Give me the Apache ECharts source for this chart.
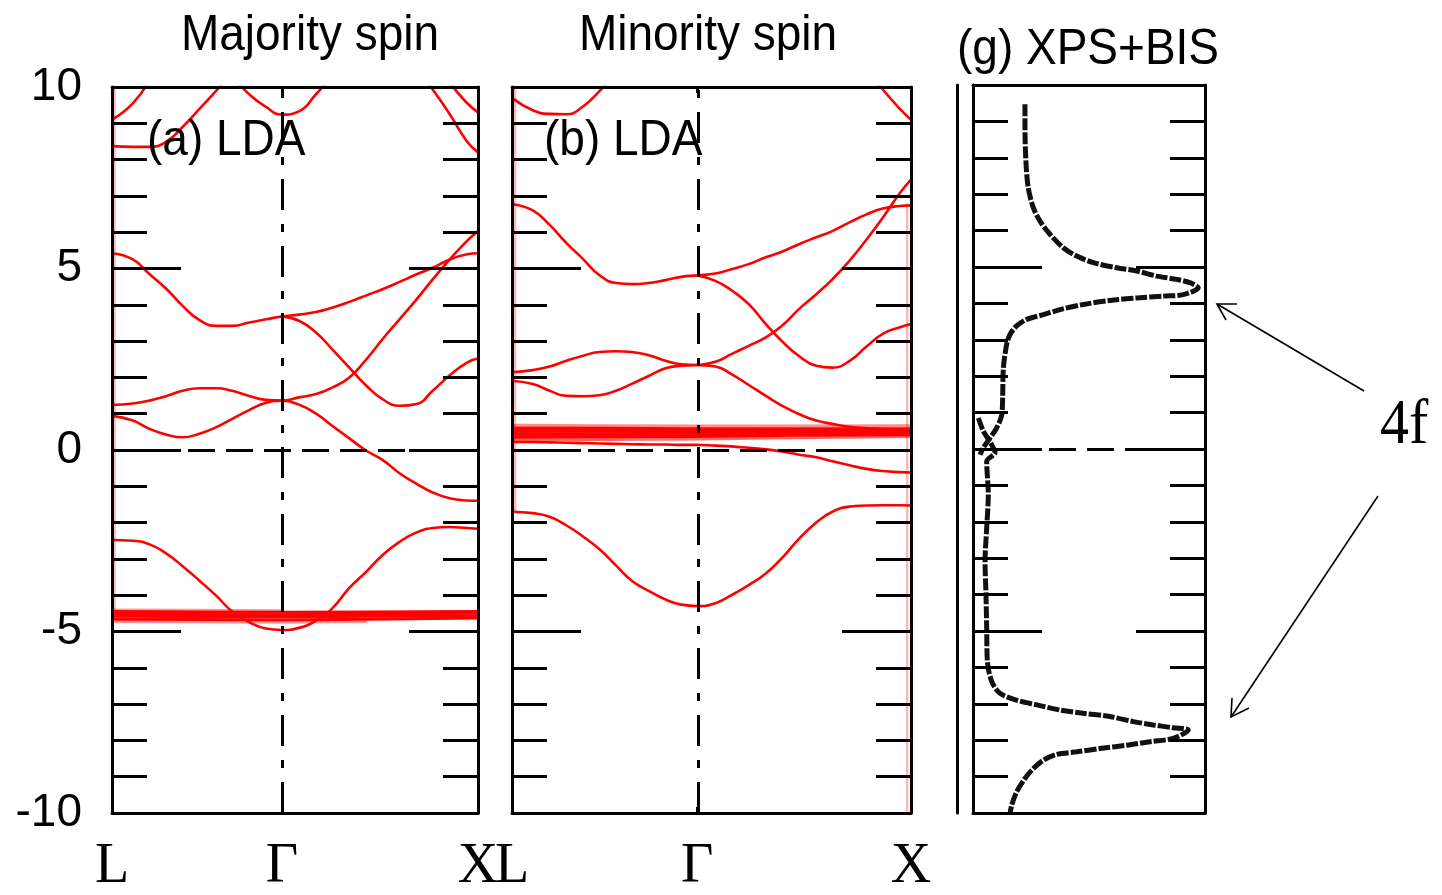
<!DOCTYPE html>
<html>
<head>
<meta charset="utf-8">
<script src="https://cdn.jsdelivr.net/npm/echarts@6/dist/echarts.min.js"></script>
<style>
  html, body { margin: 0; padding: 0; background: #fff; }
  #chart { width: 1442px; height: 895px; }
</style>
</head>
<body>
<div id="chart"></div>
<script>
// ---- Majority spin band structure, path L - Γ - X (k in units of 2π/a) ----
const kMaj = [0, 0.106, 0.192, 0.279, 0.36, 0.446, 0.532, 0.613, 0.699, 0.785, 0.866,
              0.953, 1.04, 1.122, 1.21, 1.297, 1.379, 1.466, 1.553, 1.635, 1.722, 1.81, 1.866];
const majBand1 = [-2.48, -2.5, -2.6, -2.86, -3.2, -3.6, -4.02, -4.45, -4.74, -4.92, -4.96,
                  -4.9, -4.7, -4.37, -3.8, -3.35, -2.9, -2.53, -2.27, -2.15, -2.12, -2.15, -2.17];
const majBand2 = [0.94, 0.81, 0.58, 0.42, 0.35, 0.45, 0.63, 0.86, 1.1, 1.3, 1.36,
                  1.25, 1.0, 0.67, 0.32, -0.02, -0.27, -0.64, -0.93, -1.17, -1.33, -1.39, -1.4];
const majBand3 = [1.24, 1.28, 1.36, 1.49, 1.63, 1.7, 1.7, 1.63, 1.49, 1.38, 1.36,
                  1.45, 1.54, 1.72, 2.0, 2.5, 3.05, 3.6, 4.15, 4.7, 5.25, 5.76, 6.03];
const majBand4 = [5.42, 5.25, 4.84, 4.43, 3.97, 3.58, 3.42, 3.42, 3.51, 3.6, 3.68,
                  3.73, 3.8, 3.92, 4.08, 4.26, 4.43, 4.63, 4.84, 5.02, 5.25, 5.39, 5.42];
const majBand5 = [null, null, null, null, null, null, null, null, null, null, 3.68,
                  3.56, 3.24, 2.78, 2.27, 1.77, 1.4, 1.22, 1.27, 1.63, 2.06, 2.41, 2.52];
const majBand6 = [9.1, 9.55, 10.2, null, null, null, null, null, null, null, null,
                  null, null, null, null, null, null, null, null, null, null, null, null];
const majBand7 = [8.37, 8.35, 8.35, 8.5, 8.9, 9.4, 9.9, 10.4, null, null, null,
                  null, null, null, null, null, null, null, null, null, null, null, null];
const majBand8 = [null, null, null, null, null, null, null, 10.3, 9.8, 9.45, 9.24,
                  9.33, 9.8, 10.3, null, null, null, null, null, null, null, null, null];
const majBand9 = [null, null, null, null, null, null, null, null, null, null, null,
                  null, null, null, null, null, null, null, 10.5, 9.93, 9.25, 8.5, 8.2];
const majBand10 = [null, null, null, null, null, null, null, null, null, null, null,
                   null, null, null, null, null, null, null, null, 10.6, 10.1, 9.56, 9.3];

// Flat 4f bands (sampled at L, halfway, Γ, halfway, X)
const kFlat = [0, 0.433, 0.866, 1.3, 1.866];
const majF1 = [-4.45, -4.46, -4.47, -4.46, -4.45];
const majF2 = [-4.52, -4.53, -4.54, -4.52, -4.5];
const majF3 = [-4.58, -4.59, -4.6, -4.58, -4.57];
const majF4 = [-4.66, -4.67, -4.68, -4.66, -4.63];
const majF5 = [-4.4, -4.41, -4.42, null, null];
const majF6 = [-4.73, -4.74, -4.75, -4.73, null];

// ---- Minority spin band structure ----
const kMin = [0, 0.097, 0.176, 0.255, 0.329, 0.408, 0.486, 0.56, 0.639, 0.718, 0.792, 0.866,
              0.951, 1.026, 1.107, 1.187, 1.262, 1.342, 1.423, 1.498, 1.578, 1.658, 1.734, 1.814, 1.866];
const minBand1 = [-1.7, -1.74, -1.84, -2.08, -2.37, -2.73, -3.18, -3.6, -3.88, -4.12, -4.26, -4.3,
                  -4.22, -4.0, -3.72, -3.4, -2.98, -2.45, -2.0, -1.7, -1.56, -1.53, -1.52, -1.52, -1.53];
const minBand2 = [0.22, 0.22, 0.21, 0.2, 0.19, 0.18, 0.17, 0.16, 0.15, 0.15, 0.14, 0.14,
                  0.12, 0.1, 0.06, 0.02, -0.04, -0.13, -0.2, -0.31, -0.42, -0.52, -0.58, -0.61, -0.62];
const minBand3 = [2.14, 2.2, 2.3, 2.46, 2.59, 2.7, 2.72, 2.7, 2.61, 2.46, 2.36, 2.34,
                  2.3, 2.09, 1.79, 1.49, 1.22, 0.99, 0.81, 0.72, 0.64, 0.6, 0.58, 0.57, 0.57];
const minBand4 = [1.9, 1.82, 1.63, 1.49, 1.48, 1.51, 1.63, 1.82, 2.04, 2.25, 2.32, 2.34,
                  2.43, 2.64, 2.87, 3.1, 3.42, 3.88, 4.29, 4.7, 5.21, 5.8, 6.4, 7.08, 7.45];
const minBand5 = [6.77, 6.6, 6.2, 5.7, 5.28, 4.82, 4.6, 4.57, 4.6, 4.68, 4.77, 4.81,
                  4.86, 4.98, 5.12, 5.31, 5.46, 5.67, 5.86, 6.03, 6.27, 6.49, 6.65, 6.72, 6.74];
const minBand6 = [null, null, null, null, null, null, null, null, null, null, null, 4.81,
                  4.66, 4.4, 4.02, 3.47, 3.0, 2.59, 2.32, 2.27, 2.45, 2.85, 3.2, 3.38, 3.47];
const minBand7 = [9.7, 9.36, 9.26, 9.25, 9.45, 9.88, 10.4, null, null, null, null, null,
                  null, null, null, null, null, null, null, null, null, null, null, null, null];
const minBand8 = [null, null, null, null, null, null, null, null, null, null, null, null,
                  null, null, null, null, null, null, null, null, null, 10.5, 9.93, 9.4, 9.1];
const minF1 = [0.68, 0.67, 0.66, 0.66, 0.67];
const minF2 = [0.6, 0.59, 0.58, 0.58, 0.58];
const minF3 = [0.52, 0.52, 0.5, 0.51, 0.52];
const minF4 = [0.44, 0.44, 0.44, 0.45, 0.47];
const minF5 = [0.36, 0.37, 0.38, 0.41, 0.43];
const minF6 = [0.28, 0.29, 0.3, 0.34, 0.37];

// Segments along the zone-boundary edges: [k, E from, E to]
const majEdges = [[0.013, 10, -4.6], [1.886, 5.45, -10]];
const minEdges = [[0.014, 10, -1.7], [1.848, 6.8, -10]];

// ---- XPS + BIS spectrum (intensity, arb. units 0-100) ----
const bisE = [9.47, 8.83, 7.91, 7.18, 6.63, 6.26, 5.9, 5.53, 5.3, 5.12, 4.98, 4.89, 4.75, 4.66, 4.57, 4.43,
              4.24, 4.2, 4.15, 4.08, 3.97, 3.83, 3.69, 3.56, 3.38, 3.14, 2.87, 2.23, 1.49, 0.94, 0.58, 0.3, 0.03, -0.16];
const bisI = [22.4, 22.4, 22.8, 23.8, 26, 28.9, 33.2, 38.9, 44.7, 51.9, 61.9, 70.6, 79.2, 87.8, 93.5, 97.1,
              90.6, 82, 70.6, 59, 47.5, 37.5, 30.3, 23.1, 18.8, 15.9, 14.5, 13.1, 12.8, 12.4, 10.2, 7.3, 4.4, 3];
const xpsE = [0.85, 0.5, 0.2, -0.1, -0.34, -1.26, -2.17, -3.09, -4.01, -4.92, -5.84, -6.39, -6.71, -6.9, -7.03,
              -7.17, -7.26, -7.35, -7.49, -7.58, -7.66, -7.72, -7.95, -8.04, -8.14, -8.23, -8.32, -8.39, -8.55,
              -8.78, -9.05, -9.42, -9.78, -10.05];
const xpsI = [2.3, 4.4, 7.3, 9.5, 5.9, 6.6, 5.9, 5.2, 5.6, 5.9, 6.2, 8.1, 11.6, 18.8, 27.5,
              37.5, 47.5, 59, 69.1, 77.7, 86.3, 92.8, 86.3, 76.3, 66.2, 54.7, 44.7, 36.1, 30.3,
              26, 22.4, 18.8, 16.7, 15.9];

// Axis settings
const energyTicks = { min: -10, max: 10, interval: 5 };
const kGamma = 0.866, kEnd = 1.866;
const kPointNames = { 0: 'L', 0.866: 'Γ', 1.866: 'X' };

const RED = '#ff0000';
const sans = '"Liberation Sans", Arial, sans-serif';
const serif = '"Liberation Serif", "Times New Roman", serif';

function band(k, e, xi, yi, opts) {
  opts = opts || {};
  return {
    type: 'line', xAxisIndex: xi, yAxisIndex: yi, silent: true,
    data: k.map((kv, i) => [kv, e[i]]),
    showSymbol: false, symbol: 'none', smooth: opts.smooth === undefined ? 0.5 : opts.smooth,
    connectNulls: false,
    lineStyle: { color: opts.color || RED, width: opts.width || 2.6, opacity: opts.opacity || 1 },
    z: 2
  };
}
function edge(list, xi, yi) {
  return list.map(s => ({
    type: 'line', xAxisIndex: xi, yAxisIndex: yi, silent: true, clip: false,
    data: [[s[0], s[1]], [s[0], s[2]]], showSymbol: false, symbol: 'none',
    lineStyle: { color: '#ffb6b6', width: 2.5 }, z: 1
  }));
}
function guides(xi, yi, withGamma) {
  const d = [];
  if (withGamma) d.push({ xAxis: kGamma, lineStyle: { type: [31, 14, 8, 14], width: 3, color: '#000' } });
  d.push({ yAxis: 0, lineStyle: { type: [27, 11], width: 3, color: '#000' } });
  return {
    type: 'line', xAxisIndex: xi, yAxisIndex: yi, data: [], silent: true, z: 3,
    markLine: { silent: true, symbol: ['none', 'none'], label: { show: false }, animation: false, data: d }
  };
}

function kAxis(gi, pos, labels) {
  return {
    type: 'value', gridIndex: gi, position: pos, min: 0, max: kEnd, z: 6,
    axisLine: { show: true, onZero: false, lineStyle: { color: '#000', width: 3 } },
    axisTick: { show: true, inside: true, length: 6, customValues: [kGamma], lineStyle: { color: '#000', width: 3 } },
    axisLabel: labels ? {
      show: true, customValues: [0, kGamma, kEnd], margin: 26, color: '#000',
      fontFamily: serif, fontSize: 56, showMinLabel: true, showMaxLabel: true,
      formatter: v => kPointNames[Math.round(v * 1000) / 1000] || ''
    } : { show: false },
    splitLine: { show: false }
  };
}
function eAxis(gi, pos, labels) {
  return {
    type: 'value', gridIndex: gi, position: pos, z: 6,
    min: energyTicks.min, max: energyTicks.max, interval: energyTicks.interval,
    axisLine: { show: true, onZero: false, lineStyle: { color: '#000', width: 3 } },
    axisTick: { show: true, inside: true, length: 69, lineStyle: { color: '#000', width: 3 } },
    minorTick: { show: true, splitNumber: 5, length: 35, lineStyle: { color: '#000', width: 3 } },
    axisLabel: labels ? { show: true, margin: 30, color: '#000', fontFamily: sans, fontSize: 46 } : { show: false },
    splitLine: { show: false }, minorSplitLine: { show: false }
  };
}
function plainAxis(gi, pos) {
  return {
    type: 'value', gridIndex: gi, position: pos, min: 0, max: 100, z: 6,
    axisLine: { show: true, onZero: false, lineStyle: { color: '#000', width: 3 } },
    axisTick: { show: false }, axisLabel: { show: false }, splitLine: { show: false }
  };
}

const series = [
  guides(0, 0, true),
  ...edge(majEdges, 0, 0),
  band(kFlat, majF5, 0, 0, { opacity: 0.4, smooth: false }),
  band(kFlat, majF6, 0, 0, { opacity: 0.4, smooth: false }),
  band(kFlat, majF1, 0, 0, { smooth: false, width: 3 }),
  band(kFlat, majF2, 0, 0, { smooth: false, width: 3 }),
  band(kFlat, majF3, 0, 0, { smooth: false, width: 3 }),
  band(kFlat, majF4, 0, 0, { smooth: false, width: 3 }),
  ...[majBand1, majBand2, majBand3, majBand4, majBand5, majBand6, majBand7, majBand8, majBand9, majBand10]
    .map(b => band(kMaj, b, 0, 0)),

  guides(2, 2, true),
  ...edge(minEdges, 2, 2),
  band(kFlat, minF1, 2, 2, { opacity: 0.45, smooth: false, width: 3 }),
  band(kFlat, minF6, 2, 2, { opacity: 0.6, smooth: false, width: 3 }),
  band(kFlat, minF2, 2, 2, { smooth: false, width: 3.5 }),
  band(kFlat, minF3, 2, 2, { smooth: false, width: 3.5 }),
  band(kFlat, minF4, 2, 2, { smooth: false, width: 3.5 }),
  band(kFlat, minF5, 2, 2, { smooth: false, width: 3.5 }),
  ...[minBand1, minBand2, minBand3, minBand4, minBand5, minBand6, minBand7, minBand8]
    .map(b => band(kMin, b, 2, 2)),

  guides(4, 4, false),
  {
    type: 'line', xAxisIndex: 4, yAxisIndex: 4, silent: true, z: 4,
    data: bisI.map((v, i) => [v, bisE[i]]), showSymbol: false, symbol: 'none', smooth: 0.3,
    lineStyle: { color: '#111', width: 5, type: [12, 2] }
  },
  {
    type: 'line', xAxisIndex: 4, yAxisIndex: 4, silent: true, z: 4,
    data: xpsI.map((v, i) => [v, xpsE[i]]), showSymbol: false, symbol: 'none', smooth: 0.3,
    lineStyle: { color: '#111', width: 5, type: [12, 2] }
  }
];

function label(text, x, y, font, align) {
  return {
    type: 'text', x: x, y: y, scaleY: 1.1, silent: true, z: 10,
    style: {
      x: 0, y: 0, text: text, font: font, fill: '#000',
      textAlign: align || 'center', align: align || 'center',
      textVerticalAlign: 'middle', verticalAlign: 'middle'
    }
  };
}

const option = {
  animation: false,
  backgroundColor: '#fff',
  grid: [
    { left: 112, top: 87, width: 366, height: 727 },
    { left: 512, top: 87, width: 399, height: 727 },
    { left: 973, top: 85, width: 232, height: 728 }
  ],
  xAxis: [
    kAxis(0, 'bottom', true), kAxis(0, 'top', false),
    kAxis(1, 'bottom', true), kAxis(1, 'top', false),
    plainAxis(2, 'bottom'), plainAxis(2, 'top')
  ],
  yAxis: [
    eAxis(0, 'left', true), eAxis(0, 'right', false),
    eAxis(1, 'left', false), eAxis(1, 'right', false),
    eAxis(2, 'left', false), eAxis(2, 'right', false),
    Object.assign(eAxis(2, 'left', false), {
      offset: 16, axisTick: { show: false }, minorTick: { show: false }
    })
  ],
  series: series,
  graphic: [
    label('Majority spin', 310, 36, '46px ' + sans),
    label('Minority spin', 708, 36, '46px ' + sans),
    label('(g) XPS+BIS', 1088, 50, '46px ' + sans),
    label('(a) LDA', 147, 141, '46px ' + sans, 'left'),
    label('(b) LDA', 544, 141, '46px ' + sans, 'left'),
    label('4f', 1380, 426, '58px ' + serif, 'left'),
    { type: 'line', silent: true, z: 10, shape: { x1: 1364, y1: 391, x2: 1217, y2: 304 }, style: { stroke: '#000', lineWidth: 1.6 } },
    { type: 'polyline', silent: true, z: 10, shape: { points: [[1237, 304], [1217, 304], [1226, 320]] }, style: { stroke: '#000', lineWidth: 1.6, fill: null } },
    { type: 'line', silent: true, z: 10, shape: { x1: 1378, y1: 496, x2: 1231, y2: 717 }, style: { stroke: '#000', lineWidth: 1.6 } },
    { type: 'polyline', silent: true, z: 10, shape: { points: [[1249, 708], [1231, 717], [1232, 698]] }, style: { stroke: '#000', lineWidth: 1.6, fill: null } }
  ]
};

const chart = echarts.init(document.getElementById('chart'), null, { renderer: 'canvas' });
chart.setOption(option);
</script>
</body>
</html>
